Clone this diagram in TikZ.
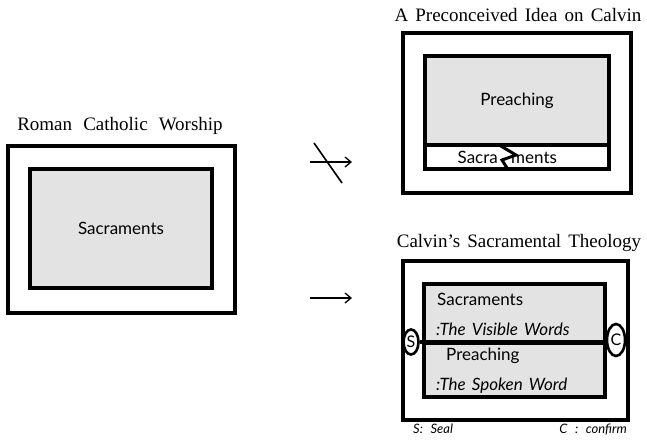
\documentclass[tikz,border=0pt]{standalone}
\usepackage{fontspec}
\setmainfont{Liberation Serif}[WordSpace=1.5]
\setsansfont{Lato}[WordSpace=1.5]
\usetikzlibrary{arrows.meta,positioning,shapes.geometric}

\begin{document}
\begin{tikzpicture}[x=1pt, y=-1pt, >={Straight Barb[length=6pt,width=10pt]}]
  % Styles
  \tikzstyle{frame}=[draw, line width=3.2pt, inner sep=0pt]
  \tikzstyle{core}=[draw, line width=3.2pt, fill=gray!22, inner sep=0pt, font=\sffamily\fontsize{17}{19}\selectfont]
  \tikzstyle{strip}=[draw, line width=3.2pt, fill=white, inner sep=0pt]
  \tikzstyle{title}=[font=\fontsize{19}{22}\selectfont, inner sep=0pt]
  \tikzstyle{txt}=[font=\sffamily\fontsize{17}{19}\selectfont, inner sep=0pt, anchor=base west]
  \tikzstyle{itxt}=[font=\sffamily\itshape\fontsize{17}{19}\selectfont, inner sep=0pt, anchor=base west]
  \tikzstyle{ring}=[draw, ellipse, line width=2.6pt, fill=white, inner sep=0pt, font=\sffamily\fontsize{16}{18}\selectfont]
  \tikzstyle{arr}=[->, line width=1.3pt]

  \useasboundingbox (0,0) rectangle (647,440);

  % Left: Roman Catholic worship
  \node[frame, minimum width=227pt, minimum height=167pt] (rc_out) at (121.5,229.5) {};
  \node[core, minimum width=182pt, minimum height=119pt] (rc_in) at (121,228.5) {Sacraments};
  \node[title] (rc_title) at (120,126) {Roman\hspace{4pt} Catholic\hspace{4pt} Worship};

  % Top right: preconceived idea
  \node[frame, minimum width=228pt, minimum height=160pt] (pi_out) at (517,113) {};
  \node[core, minimum width=184pt, minimum height=89pt] (pi_pr) at (517,100.5) {Preaching};
  \node[strip, minimum width=184pt, minimum height=24pt] (pi_sa) at (517,157) {};
  \node[txt, anchor=base east] (pi_sa1) at (498,163) {Sacra};
  \node[txt] (pi_sa2) at (511,163) {ments};
  \draw[line width=3pt] (500,145.5) -- (516,155) -- (502,160) -- (508,169.5);
  \node[title] (pi_title) at (518,15) {A Preconceived Idea on Calvin};

  % Bottom right: Calvin's theology
  \node[frame, minimum width=225pt, minimum height=159pt] (ct_out) at (515.5,340.5) {};
  \node[core, minimum width=181pt, minimum height=59pt] (ct_sa) at (514.5,313.5) {};
  \node[core, minimum width=181pt, minimum height=54pt] (ct_pr) at (514.5,370) {};
  \node[txt] (ct_sa1) at (437,305) {Sacraments};
  \node[itxt] (ct_sa2) at (436,335) {:The Visible Words};
  \node[txt] (ct_pr1) at (446,360) {Preaching};
  \node[itxt] (ct_pr2) at (436,390) {:The Spoken Word};
  \node[ring, minimum width=15pt, minimum height=25pt] (seal) at (411,342) {S};
  \node[ring, minimum width=18pt, minimum height=32pt] (conf) at (616,340) {C};
  \draw[line width=3.2pt] (seal.east) -- (conf.west |- seal.east);
  \node[title] (ct_title) at (519,243) {Calvin's Sacramental Theology};
  \node[itxt, font=\sffamily\itshape\fontsize{13}{15}\selectfont] (lg_s) at (413,433) {S:\hspace{3pt} Seal};
  \node[itxt, anchor=base east, font=\sffamily\itshape\fontsize{13}{15}\selectfont] (lg_c) at (627,433) {C\hspace{3pt} :\hspace{3pt} confirm};

  % Arrows
  \coordinate (a1s) at (310,162);
  \coordinate (a1e) at (352,162);
  \coordinate (a2s) at (310,298);
  \coordinate (a2e) at (352,298);
  \draw[arr] (a1s) -- (a1e);
  \draw[line width=1.6pt] (314,143) -- (342,183);
  \draw[arr] (a2s) -- (a2e);
\end{tikzpicture}
\end{document}
